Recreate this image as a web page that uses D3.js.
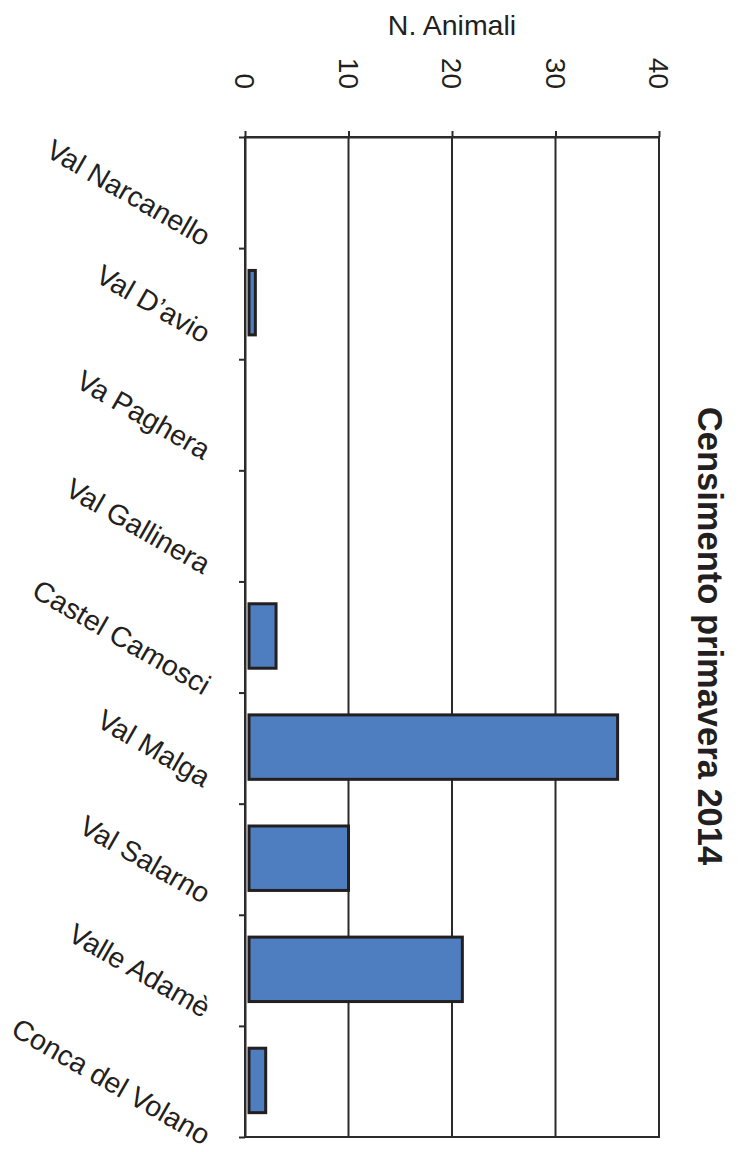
<!DOCTYPE html>
<html>
<head>
<meta charset="utf-8">
<script src="https://cdn.jsdelivr.net/npm/d3@7"></script>
<style>
  body { margin: 0; background: #fff; }
  text { font-family: "Liberation Sans", Arial, Helvetica, sans-serif; fill: #231f20; }
</style>
</head>
<body>
<svg id="chart" width="743" height="1152"></svg>
<script>
// Spring census counts per valley
const categories = ["Val Narcanello", "Val D’avio", "Va Paghera", "Val Gallinera", "Castel Camosci",
                    "Val Malga", "Val Salarno", "Valle Adamè", "Conca del Volano"];
const animals = [0, 1, 0, 0, 3, 36, 10, 21, 2];
const valueTicks = [0, 10, 20, 30, 40];
const chartTitle = "Censimento primavera 2014";
const valueTitle = "N. Animali";

const svg = d3.select("#chart");
const plot = { left: 245, right: 659, top: 137, bottom: 1137 };
const ink = "#231f20";
const lineCol = "#2b2b2b";

const x = d3.scaleLinear().domain([0, 40]).range([plot.left, plot.right]);
const y = d3.scaleBand().domain(categories).range([plot.top, plot.bottom])
  .paddingInner(0.42).paddingOuter(0.21);
// category boundaries for the tick marks
const yEdge = d3.scaleLinear().domain([0, categories.length]).range([plot.top, plot.bottom]);

// gridlines
svg.append("g").selectAll("line").data(valueTicks.filter(v => v > 0)).join("line")
  .attr("x1", d => x(d)).attr("x2", d => x(d))
  .attr("y1", plot.top).attr("y2", plot.bottom)
  .attr("stroke", lineCol).attr("stroke-width", 2);

// plot frame
svg.append("rect")
  .attr("x", plot.left).attr("y", plot.top)
  .attr("width", plot.right - plot.left).attr("height", plot.bottom - plot.top)
  .attr("fill", "none").attr("stroke", lineCol).attr("stroke-width", 2);

// value axis (top)
const xAxis = svg.append("g").attr("transform", `translate(0,${plot.top})`)
  .call(d3.axisTop(x).tickValues(valueTicks).tickSizeInner(6).tickSizeOuter(0).tickFormat(""));
xAxis.select(".domain").attr("stroke", lineCol).attr("stroke-width", 2);
xAxis.selectAll(".tick line").attr("stroke", lineCol).attr("stroke-width", 2);

// category axis (left)
const yAxis = svg.append("g").attr("transform", `translate(${plot.left},0)`)
  .call(d3.axisLeft(yEdge).tickValues(d3.range(categories.length + 1)).tickSizeInner(6).tickSizeOuter(0).tickFormat(""));
yAxis.select(".domain").attr("stroke", lineCol).attr("stroke-width", 2);
yAxis.selectAll(".tick line").attr("stroke", lineCol).attr("stroke-width", 2);

// bars
const bars = categories.map((c, i) => ({ c, v: animals[i] })).filter(d => d.v > 0);
svg.append("g").selectAll("rect").data(bars).join("rect")
  .attr("x", x(0) + 4)
  .attr("y", d => y(d.c) - 1)
  .attr("width", d => x(d.v) - x(0) - 4)
  .attr("height", y.bandwidth())
  .attr("fill", "#4f7ec0")
  .attr("stroke", ink).attr("stroke-width", 3);

// value tick labels, rotated
svg.append("g").selectAll("text").data(valueTicks).join("text")
  .attr("transform", d => `translate(${x(d)},89) rotate(90)`)
  .attr("text-anchor", "end").attr("dy", "0.35em")
  .attr("font-size", 28)
  .text(d => d);

// value axis title
svg.append("text")
  .attr("x", (plot.left + plot.right) / 2).attr("y", 35)
  .attr("text-anchor", "middle").attr("font-size", 28.5)
  .text(valueTitle);

// chart title, rotated on the right
svg.append("text")
  .attr("transform", `translate(698,${(plot.top + plot.bottom) / 2 - 1}) rotate(90)`)
  .attr("text-anchor", "middle").attr("font-size", 34.5).attr("font-weight", "bold")
  .text(chartTitle);

// slanted category labels: right-aligned, centred on each band
const labG = svg.append("g").selectAll("g").data(categories).join("g");
labG.append("text")
  .attr("transform", "rotate(30)")
  .attr("text-anchor", "end")
  .attr("font-size", 28.5)
  .text(d => d);
labG.each(function (d) {
  const b = this.getBBox();
  const cy = y(d) + y.bandwidth() / 2;
  const tx = 216 - (b.x + b.width);
  const ty = cy - (b.y + b.height / 2);
  d3.select(this).attr("transform", `translate(${tx},${ty})`);
});
</script>
</body>
</html>
